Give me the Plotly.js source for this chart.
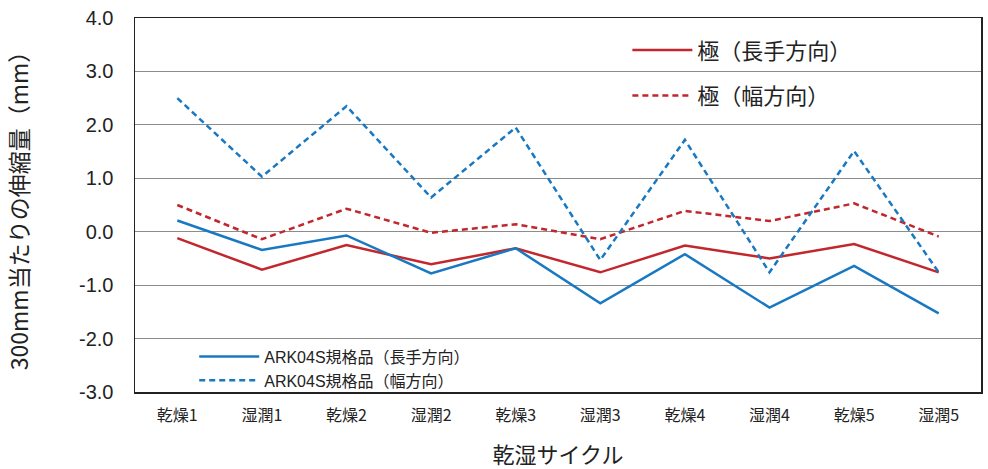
<!DOCTYPE html>
<html>
<head>
<meta charset="utf-8">
<script src="https://cdn.plot.ly/plotly-3.0.1.min.js"></script>
<style>html,body{margin:0;padding:0;background:#fff;}#chart{width:988px;height:469px;}</style>
</head>
<body>
<div id="chart"></div>
<script>
const categories = ['乾燥1','湿潤1','乾燥2','湿潤2','乾燥3','湿潤3','乾燥4','湿潤4','乾燥5','湿潤5'];
const kyokuLong  = [-0.12,-0.71,-0.25,-0.61,-0.31,-0.76,-0.26,-0.50,-0.23,-0.76];
const kyokuWidth = [0.50,-0.14,0.43,-0.02,0.14,-0.14,0.39,0.20,0.53,-0.09];
const arkLong    = [0.21,-0.34,-0.07,-0.78,-0.31,-1.34,-0.42,-1.42,-0.64,-1.53];
const arkWidth   = [2.50,1.03,2.35,0.64,1.95,-0.53,1.72,-0.76,1.51,-0.76];
const yTickVals  = [-3,-2,-1,0,1,2,3,4];
const yTickText  = ['-3.0','-2.0','-1.0','0.0','1.0','2.0','3.0','4.0'];

const RED = '#c1272d', BLUE = '#1878c2';
const FONT = 'Liberation Sans, Noto Sans CJK JP, sans-serif';
const JP = 'Noto Sans CJK JP, sans-serif';

const traces = [
  {x: categories, y: kyokuLong, name: '極（長手方向）', mode: 'lines', legend: 'legend', legendgroup: 'a',
   line: {color: RED, width: 2.5}},
  {x: categories, y: kyokuWidth, name: '極（幅方向）', mode: 'lines', legend: 'legend', legendgroup: 'b',
   line: {color: RED, width: 2.5, dash: '6px,4px'}},
  {x: categories, y: arkLong, name: 'ARK04S規格品（長手方向）', mode: 'lines', legend: 'legend2',
   line: {color: BLUE, width: 2.5}},
  {x: categories, y: arkWidth, name: 'ARK04S規格品（幅方向）', mode: 'lines', legend: 'legend2',
   line: {color: BLUE, width: 2.5, dash: '6px,4px'}}
];

const layout = {
  width: 988, height: 469,
  margin: {l: 135, r: 7, t: 18, b: 77},
  paper_bgcolor: '#fff', plot_bgcolor: '#fff',
  font: {family: FONT, color: '#222'},
  showlegend: true,
  xaxis: {
    type: 'category', range: [-0.5, 9.5],
    showgrid: false, zeroline: false,
    showline: true, mirror: true, linecolor: '#222', linewidth: 1.5,
    ticks: '', ticklabelstandoff: 8,
    tickfont: {size: 16, color: '#222', family: JP},
    title: {text: '乾湿サイクル', font: {size: 22, color: '#222', family: JP}, standoff: 25}
  },
  yaxis: {
    range: [-3, 4], tickvals: yTickVals, ticktext: yTickText,
    showgrid: true, gridcolor: '#8c8c8c', gridwidth: 1, zeroline: false,
    showline: true, mirror: true, linecolor: '#222', linewidth: 1.5,
    ticks: '', ticklabelstandoff: 16,
    tickfont: {size: 20, color: '#222'},
    title: {text: '300mm当たりの伸縮量（mm）', font: {size: 23, color: '#222', family: JP}, standoff: 44}
  },
  legend: {
    x: 0.582, y: 0.97, xanchor: 'left', yanchor: 'top',
    bgcolor: 'rgba(0,0,0,0)', borderwidth: 0,
    font: {size: 22, color: '#222', family: JP},
    tracegroupgap: 14, itemwidth: 60
  },
  legend2: {
    x: 0.07, y: 0.14, xanchor: 'left', yanchor: 'top',
    bgcolor: 'rgba(0,0,0,0)', borderwidth: 0,
    font: {size: 16, color: '#222'},
    tracegroupgap: 0, itemwidth: 60
  }
};

Plotly.newPlot('chart', traces, layout, {displayModeBar: false, staticPlot: true});
</script>
</body>
</html>
